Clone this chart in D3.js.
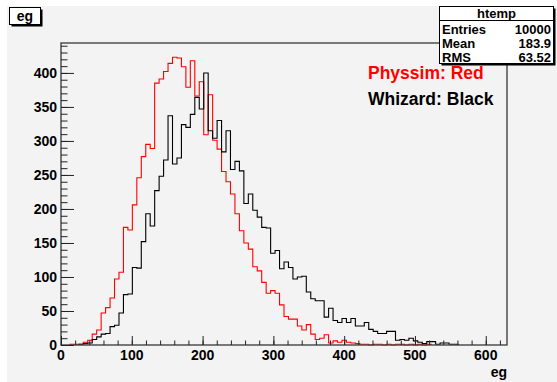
<!DOCTYPE html>
<html>
<head>
<meta charset="utf-8">
<script src="https://cdn.jsdelivr.net/npm/d3@7"></script>
<style>
  body { margin: 0; background: #fff; }
  svg { display: block; }
  svg text { font-family: "Liberation Sans", Arial, sans-serif; font-weight: bold; fill: #000; }
</style>
</head>
<body>
<script>
// bin contents, 100 bins of width 6.3 from 0 to 630
const binWidth = 6.3;
const physsim = [
  0, 0, 1, 1, 1, 4, 7, 16, 22, 47,
  55, 69, 97, 107, 173, 169, 206, 246, 277, 295,
  289, 385, 391, 402, 414, 423, 422, 409, 379, 418,
  366, 387, 309, 368, 301, 288, 255, 240, 222, 193,
  168, 150, 141, 115, 109, 92, 76, 80, 76, 59,
  42, 38, 38, 28, 22, 30, 16, 8, 10, 15,
  3, 6, 4, 7, 4, 3, 2, 1, 1, 0,
  1, 1, 0, 1, 0, 1, 1, 0, 1, 0,
  1, 0, 1, 0, 0, 0, 0, 0, 0, 0,
  0, 0, 0, 0, 0, 0, 0, 0, 0, 0
];
const whizard = [
  0, 0, 0, 0, 1, 2, 3, 8, 12, 16,
  17, 27, 29, 47, 74, 75, 114, 113, 152, 193,
  175, 227, 248, 272, 337, 266, 275, 324, 320, 339,
  364, 347, 400, 315, 304, 330, 284, 315, 258, 270,
  256, 208, 222, 198, 188, 173, 172, 135, 139, 112,
  122, 114, 97, 100, 101, 78, 68, 65, 65, 41,
  54, 36, 33, 39, 33, 39, 28, 28, 33, 23,
  20, 17, 17, 20, 20, 7, 8, 7, 10, 6,
  4, 2, 5, 5, 1, 3, 3, 1, 1, 0,
  0, 0, 0, 0, 0, 0, 0, 0, 0, 0
];
const xTicks = [0, 100, 200, 300, 400, 500, 600];
const yTicks = [0, 50, 100, 150, 200, 250, 300, 350, 400];
const statsRows = [["Entries", "10000"], ["Mean", "183.9"], ["RMS", "63.52"]];
const legendRows = [["Physsim: Red", "#ff0000"], ["Whizard: Black", "#000000"]];

const W = 557, H = 382;
const frame = { left: 61, right: 507, top: 43, bottom: 345 };
const padColor = "#f3f3f3";

const svg = d3.select("body").append("svg")
  .attr("width", W)
  .attr("height", H);

// canvas background with white bevel at top/left
svg.append("rect").attr("width", W).attr("height", H).attr("fill", "#ffffff");
svg.append("rect")
  .attr("x", 7).attr("y", 6)
  .attr("width", W - 7).attr("height", H - 6)
  .attr("fill", padColor);

const x = d3.scaleLinear().domain([0, 630]).range([frame.left, frame.right]);
const y = d3.scaleLinear().domain([0, 444]).range([frame.bottom, frame.top]);

// step outline of a histogram
function stepPoints(vals) {
  let first = vals.findIndex(v => v > 0);
  let last = vals.length - 1;
  while (last > 0 && vals[last] === 0) last--;
  const pts = [[first * binWidth, 0]];
  for (let i = first; i <= last; i++) {
    pts.push([i * binWidth, vals[i]]);
    pts.push([(i + 1) * binWidth, vals[i]]);
  }
  pts.push([(last + 1) * binWidth, 0]);
  return pts;
}

const line = d3.line()
  .x(d => x(d[0]))
  .y(d => y(d[1]));

svg.append("path")
  .attr("d", line(stepPoints(physsim)))
  .attr("fill", "none")
  .attr("stroke", "#ff0000")
  .attr("stroke-width", 1.1);

svg.append("path")
  .attr("d", line(stepPoints(whizard)))
  .attr("fill", "none")
  .attr("stroke", "#000000")
  .attr("stroke-width", 1.1);

// frame
svg.append("rect")
  .attr("x", frame.left).attr("y", frame.top)
  .attr("width", frame.right - frame.left)
  .attr("height", frame.bottom - frame.top)
  .attr("fill", "none")
  .attr("stroke", "#444")
  .attr("stroke-width", 1.4);

// x axis, ticks point up into the frame
function tickGroup(axis, transform) {
  const g = svg.append("g").attr("transform", transform).call(axis);
  g.selectAll(".domain").remove();
  g.selectAll("line").attr("stroke", "#222");
  return g;
}

tickGroup(d3.axisBottom(x).tickValues(d3.range(0, 621, 20)).tickSize(-4.5).tickFormat(""),
  `translate(0,${frame.bottom})`);
tickGroup(d3.axisBottom(x).tickValues(xTicks).tickSize(-9).tickFormat(""),
  `translate(0,${frame.bottom})`);

svg.append("g")
  .selectAll("text")
  .data(xTicks)
  .join("text")
  .attr("x", d => x(d))
  .attr("y", frame.bottom + 15)
  .attr("text-anchor", "middle")
  .style("font-size", "14px")
  .text(d => d);

// y axis, ticks point right
tickGroup(d3.axisLeft(y).tickValues(d3.range(0, 441, 10)).tickSize(-6.5).tickFormat(""),
  `translate(${frame.left},0)`);
tickGroup(d3.axisLeft(y).tickValues(yTicks).tickSize(-13).tickFormat(""),
  `translate(${frame.left},0)`);

svg.append("g")
  .selectAll("text")
  .data(yTicks)
  .join("text")
  .attr("x", frame.left - 4)
  .attr("y", d => y(d) + 5)
  .attr("text-anchor", "end")
  .style("font-size", "14px")
  .text(d => d);

// axis title
svg.append("text")
  .attr("x", frame.right)
  .attr("y", 377)
  .attr("text-anchor", "end")
  .style("font-size", "14px")
  .text("eg");

// boxes with a shadow, like the ROOT panes
function paveBox(x0, y0, w, h) {
  svg.append("rect")
    .attr("x", x0 + 2).attr("y", y0 + 2)
    .attr("width", w).attr("height", h)
    .attr("fill", "#000");
  svg.append("rect")
    .attr("x", x0).attr("y", y0)
    .attr("width", w).attr("height", h)
    .attr("fill", "#ffffff")
    .attr("stroke", "#000")
    .attr("stroke-width", 1);
}

paveBox(9.5, 7.5, 31, 17);
svg.append("text")
  .attr("x", 25).attr("y", 21)
  .attr("text-anchor", "middle")
  .style("font-size", "14px")
  .text("eg");

// stats box
paveBox(439.5, 6.5, 114, 57);
svg.append("line")
  .attr("x1", 439.5).attr("x2", 553.5)
  .attr("y1", 20.5).attr("y2", 20.5)
  .attr("stroke", "#000");
svg.append("text")
  .attr("x", 496.5).attr("y", 18)
  .attr("text-anchor", "middle")
  .style("font-size", "13px")
  .text("htemp");

statsRows.forEach((row, i) => {
  const yy = 33.5 + i * 14;
  svg.append("text")
    .attr("x", 442).attr("y", yy)
    .style("font-size", "13px")
    .text(row[0]);
  svg.append("text")
    .attr("x", 551).attr("y", yy)
    .attr("text-anchor", "end")
    .style("font-size", "13px")
    .text(row[1]);
});

// legend text
legendRows.forEach((row, i) => {
  svg.append("text")
    .attr("x", 368)
    .attr("y", 79 + i * 25.5)
    .style("fill", row[1])
    .style("font-size", "17.5px")
    .text(row[0]);
});
</script>
</body>
</html>
